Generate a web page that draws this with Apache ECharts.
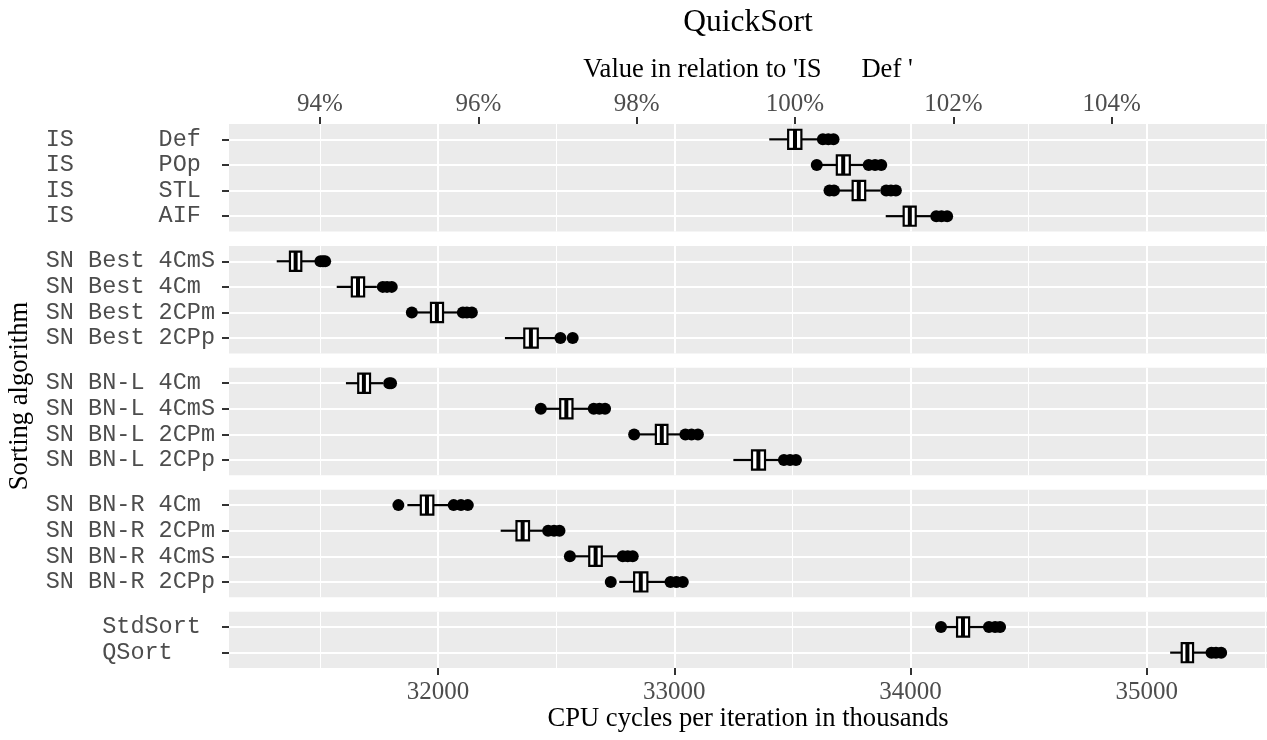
<!DOCTYPE html>
<html>
<head>
<meta charset="utf-8">
<script src="https://cdn.jsdelivr.net/npm/echarts@6/dist/echarts.min.js"></script>
<style>html,body{margin:0;padding:0;background:#fff}#chart{width:1267px;height:740px}</style>
</head>
<body>
<div id="chart"></div>
<script>
// ---------- data (CPU cycles per iteration, thousands) ----------
// box stats per row: [lower whisker, Q1, median, Q3, upper whisker]
const isLabels   = ["IS      Def ", "IS      POp ", "IS      STL ", "IS      AIF "];
const isStats    = [[33402, 33482, 33511, 33538, 33608],
                    [33621, 33688, 33715, 33743, 33803],
                    [33697, 33755, 33781, 33808, 33871],
                    [33895, 33971, 33997, 34022, 34087]];
const isOutliers = [[33629, 33652, 33674],
                    [33603, 33823, 33850, 33876],
                    [33657, 33676, 33897, 33917, 33938],
                    [34109, 34131, 34155]];

const bestLabels   = ["SN Best 4CmS", "SN Best 4Cm ", "SN Best 2CPm", "SN Best 2CPp"];
const bestStats    = [[31317, 31373, 31397, 31421, 31483],
                      [31571, 31635, 31661, 31687, 31741],
                      [31906, 31970, 31995, 32021, 32084],
                      [32283, 32365, 32393, 32422, 32499]];
const bestOutliers = [[31502, 31513, 31522],
                      [31766, 31784, 31804],
                      [31889, 32105, 32122, 32143],
                      [32518, 32570]];

const bnlLabels   = ["SN BN-L 4Cm ", "SN BN-L 4CmS", "SN BN-L 2CPm", "SN BN-L 2CPp"];
const bnlStats    = [[31610, 31662, 31686, 31712, 31767],
                     [32453, 32517, 32543, 32569, 32639],
                     [32851, 32922, 32947, 32971, 33028],
                     [33250, 33329, 33356, 33384, 33443]];
const bnlOutliers = [[31793, 31801],
                     [32435, 32659, 32683, 32707],
                     [32830, 33047, 33073, 33100],
                     [33464, 33490, 33515]];

const bnrLabels   = ["SN BN-R 4Cm ", "SN BN-R 2CPm", "SN BN-R 4CmS", "SN BN-R 2CPp"];
const bnrStats    = [[31870, 31927, 31953, 31980, 32046],
                     [32265, 32332, 32358, 32385, 32444],
                     [32575, 32640, 32667, 32693, 32762],
                     [32767, 32830, 32858, 32886, 32965]];
const bnrOutliers = [[31832, 32066, 32097, 32126],
                     [32466, 32491, 32514],
                     [32558, 32782, 32803, 32824],
                     [32731, 32984, 33009, 33036]];

const stdLabels   = ["    StdSort ", "    QSort   "];
const stdStats    = [[34150, 34197, 34222, 34248, 34311],
                     [35099, 35148, 35172, 35196, 35255]];
const stdOutliers = [[34129, 34332, 34358, 34379],
                     [35274, 35293, 35315]];

// axis ticks
const xTicks   = [32000, 33000, 34000, 35000];
const pctTicks = [94, 96, 98, 100, 102, 104];
const xRange   = [31115, 35509];

// reference = median of 'IS Def'
const REF = isStats[0][2];

// ---------- layout / style ----------
const SERIF = "'Liberation Serif', 'DejaVu Serif', serif";
const MONO  = "'Liberation Mono', 'DejaVu Sans Mono', monospace";
const U = 25.6, GAP = 14.4, TOP = 124, LEFT = 229;
const TICK_COLOR = '#333333', LABEL_COLOR = '#4D4D4D';

const panels = [
  {labels: isLabels,   stats: isStats,   outliers: isOutliers},
  {labels: bestLabels, stats: bestStats, outliers: bestOutliers},
  {labels: bnlLabels,  stats: bnlStats,  outliers: bnlOutliers},
  {labels: bnrLabels,  stats: bnrStats,  outliers: bnrOutliers},
  {labels: stdLabels,  stats: stdStats,  outliers: stdOutliers}
];

const grids = [], xAxes = [], yAxes = [], series = [];
let yPos = TOP;
const last = panels.length - 1;

function renderBox(params, api) {
  const r = api.value(0);
  const lo = api.coord([api.value(1), r]);
  const q1 = api.coord([api.value(2), r]);
  const md = api.coord([api.value(3), r]);
  const q3 = api.coord([api.value(4), r]);
  const hi = api.coord([api.value(5), r]);
  const bh = api.size([0, 0.75])[1];
  const cy = md[1];
  const ls = {stroke: '#000', lineWidth: 2.2};
  return {
    type: 'group',
    children: [
      {type: 'line', shape: {x1: lo[0], y1: cy, x2: q1[0], y2: cy}, style: ls},
      {type: 'line', shape: {x1: q3[0], y1: cy, x2: hi[0], y2: cy}, style: ls},
      {type: 'rect', shape: {x: q1[0], y: cy - bh / 2, width: q3[0] - q1[0], height: bh},
       style: {fill: '#fff', stroke: '#000', lineWidth: 2.2}},
      {type: 'line', shape: {x1: md[0], y1: cy - bh / 2, x2: md[0], y2: cy + bh / 2},
       style: {stroke: '#000', lineWidth: 4}}
    ]
  };
}

panels.forEach((p, i) => {
  const n = p.labels.length;
  const h = (n + 0.2) * U;
  grids.push({left: LEFT, right: 0, top: yPos, height: h, show: true,
              backgroundColor: '#EBEBEB', borderWidth: 0, borderColor: 'transparent'});
  yPos += h + GAP;
  const rows = p.labels.map((_, k) => k + 1);
  const isLast = i === last;
  xAxes.push({
    type: 'value', gridIndex: i, min: xRange[0], max: xRange[1],
    axisLine: {show: false},
    axisTick: {show: isLast, customValues: xTicks, length: 7,
               lineStyle: {color: TICK_COLOR, width: 2}},
    axisLabel: {show: isLast, customValues: xTicks, margin: 11.5,
                formatter: v => String(Math.round(v)),
                fontFamily: SERIF, fontSize: 25, color: LABEL_COLOR},
    splitLine: {show: true, lineStyle: {color: '#fff', width: 2}},
    minorTick: {show: false, splitNumber: 2},
    minorSplitLine: {show: true, lineStyle: {color: '#fff', width: 1}},
    name: isLast ? 'CPU cycles per iteration in thousands' : '',
    nameLocation: 'middle', nameGap: 37,
    nameTextStyle: {fontFamily: SERIF, fontSize: 26.6, color: '#000'}
  });
  yAxes.push({
    type: 'value', gridIndex: i, min: 0.4, max: n + 0.6, inverse: true,
    axisLine: {show: false},
    axisTick: {show: true, customValues: rows, length: 7,
               lineStyle: {color: TICK_COLOR, width: 2}},
    axisLabel: {show: true, customValues: rows, margin: 14,
                formatter: v => p.labels[Math.round(v) - 1] || '',
                fontFamily: MONO, fontSize: 23.5, color: LABEL_COLOR},
    splitLine: {show: true, lineStyle: {color: '#fff', width: 2}}
  });
  series.push({
    type: 'scatter', xAxisIndex: i, yAxisIndex: i, z: 2,
    symbol: 'circle', symbolSize: 12, itemStyle: {color: '#000', opacity: 1},
    data: p.outliers.flatMap((arr, k) => arr.map(v => [v, k + 1]))
  });
  series.push({
    type: 'custom', xAxisIndex: i, yAxisIndex: i, z: 3,
    renderItem: renderBox,
    encode: {x: [1, 2, 3, 4, 5], y: 0},
    data: p.stats.map((s, k) => [k + 1].concat(s))
  });
});

// secondary (top) axis: value relative to 'IS Def'
xAxes.push({
  type: 'value', gridIndex: 0, position: 'top',
  min: xRange[0] / REF * 100, max: xRange[1] / REF * 100,
  axisLine: {show: false},
  axisTick: {show: true, customValues: pctTicks, length: 7,
             lineStyle: {color: TICK_COLOR, width: 2}},
  axisLabel: {show: true, customValues: pctTicks, margin: 7,
              formatter: v => Math.round(v) + '%',
              fontFamily: SERIF, fontSize: 25, color: LABEL_COLOR},
  splitLine: {show: false},
  name: "Value in relation to 'IS      Def '",
  nameLocation: 'middle', nameGap: 40,
  nameTextStyle: {fontFamily: SERIF, fontSize: 26.6, color: '#000'}
});

const chart = echarts.init(document.getElementById('chart'), null, {renderer: 'canvas'});
chart.setOption({
  animation: false,
  backgroundColor: '#fff',
  grid: grids,
  xAxis: xAxes,
  yAxis: yAxes,
  series: series,
  graphic: [
    {type: 'text', x: 748, y: 23, z: 10,
     style: {text: 'QuickSort', font: "31.5px " + SERIF, fill: '#000',
             textAlign: 'center', textVerticalAlign: 'middle', align: 'center', verticalAlign: 'middle'}},
    {type: 'text', x: 20, y: 396, rotation: Math.PI / 2, z: 10,
     style: {text: 'Sorting algorithm', font: "26.6px " + SERIF, fill: '#000',
             textAlign: 'center', textVerticalAlign: 'middle', align: 'center', verticalAlign: 'middle'}}
  ]
});
</script>
</body>
</html>
